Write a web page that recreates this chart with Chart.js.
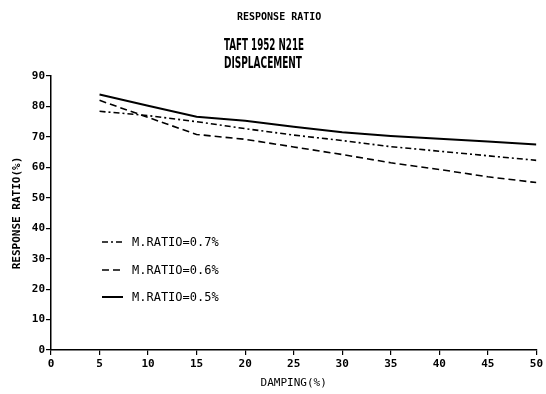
<!DOCTYPE html>
<html>
<head>
<meta charset="utf-8">
<script src="https://cdn.jsdelivr.net/npm/chart.js@4.4.0/dist/chart.umd.min.js"></script>
<style>
    body { margin: 0; background: #fff; }
    canvas { display: block; }
</style>
</head>
<body>
<canvas id="myChart" width="546" height="394"></canvas>
<script>
const damping = [5, 10, 15, 20, 25, 30, 35, 40, 45, 50];
const ratio07 = [78.4, 77.0, 75.0, 72.7, 70.6, 68.8, 66.8, 65.3, 63.8, 62.3];
const ratio06 = [82.0, 76.4, 70.8, 69.2, 66.7, 64.2, 61.5, 59.3, 56.9, 55.0];
const ratio05 = [83.9, 80.2, 76.6, 75.3, 73.3, 71.5, 70.3, 69.4, 68.5, 67.5];
const seriesLabels = ['M.RATIO=0.7%', 'M.RATIO=0.6%', 'M.RATIO=0.5%'];
const yTicks = [0, 10, 20, 30, 40, 50, 60, 70, 80, 90];
const xTicks = [0, 5, 10, 15, 20, 25, 30, 35, 40, 45, 50];

const mono = '"DejaVu Sans Mono", monospace';

function toPoints(ys) {
    return damping.map((d, i) => ({x: d, y: ys[i]}));
}

// titles and the in-plot legend, drawn after the chart
const textPlugin = {
    id: 'plotText',
    afterDraw(chart) {
        const ctx = chart.ctx;
        ctx.save();
        ctx.fillStyle = '#000';
        ctx.textBaseline = 'alphabetic';
        ctx.textAlign = 'left';
        ctx.font = 'bold 10px ' + mono;
        ctx.fillText('RESPONSE RATIO', 237, 20, 94);
        ctx.font = 'bold 15px "Liberation Sans Narrow", "DejaVu Sans Condensed", sans-serif';
        ctx.fillText('TAFT 1952 N21E', 224, 50, 80);
        ctx.fillText('DISPLACEMENT', 224, 68, 78);

        // legend
        const rows = [242, 270, 297];
        ctx.font = '12px ' + mono;
        chart.data.datasets.forEach((ds, i) => {
            const y = rows[i];
            ctx.beginPath();
            ctx.setLineDash(ds.borderDash || []);
            ctx.lineWidth = ds.borderWidth;
            ctx.strokeStyle = '#000';
            ctx.moveTo(102, y);
            ctx.lineTo(123, y);
            ctx.stroke();
            ctx.setLineDash([]);
            ctx.textBaseline = 'middle';
            ctx.fillText(ds.label, 132, y + 1, 90);
        });
        ctx.restore();
    }
};

const ctx = document.getElementById('myChart').getContext('2d');
const chart = new Chart(ctx, {
    type: 'line',
    data: {
        datasets: [
            {label: seriesLabels[0], data: toPoints(ratio07), borderColor: '#000', borderWidth: 1.6, borderDash: [6, 3, 2, 3]},
            {label: seriesLabels[1], data: toPoints(ratio06), borderColor: '#000', borderWidth: 1.6, borderDash: [7, 4]},
            {label: seriesLabels[2], data: toPoints(ratio05), borderColor: '#000', borderWidth: 2}
        ]
    },
    options: {
        responsive: false,
        devicePixelRatio: 1,
        animation: false,
        layout: {padding: {top: 76, right: 8, left: 0, bottom: 0}},
        elements: {point: {radius: 0}, line: {tension: 0}},
        plugins: {legend: {display: false}, tooltip: {enabled: false}},
        scales: {
            x: {
                type: 'linear',
                min: 0, max: 50,
                afterFit: s => { s.height = 44; },
                afterBuildTicks: s => { s.ticks = xTicks.map(v => ({value: v})); },
                grid: {drawOnChartArea: false, drawTicks: true, tickLength: 5, color: '#000', lineWidth: 1.2},
                border: {display: true, color: '#000', width: 1.5},
                ticks: {color: '#000', padding: 3, font: {family: mono, size: 11, weight: 'bold'}, maxRotation: 0},
                title: {display: true, text: 'DAMPING(%)', color: '#000', font: {family: mono, size: 11, lineHeight: 1}, padding: {top: 0, bottom: 5}}
            },
            y: {
                min: 0, max: 90,
                afterFit: s => { s.width = 51; },
                afterBuildTicks: s => { s.ticks = yTicks.map(v => ({value: v})); },
                grid: {drawOnChartArea: false, drawTicks: true, tickLength: 5, color: '#000', lineWidth: 1.2},
                border: {display: true, color: '#000', width: 1.5},
                ticks: {color: '#000', padding: 1, font: {family: mono, size: 11, weight: 'bold'}},
                title: {display: true, text: 'RESPONSE RATIO(%)', color: '#000', font: {family: mono, size: 11, weight: 'bold', lineHeight: 1}, padding: {top: 12, bottom: 0}}
            }
        }
    },
    plugins: [textPlugin]
});
</script>
</body>
</html>
